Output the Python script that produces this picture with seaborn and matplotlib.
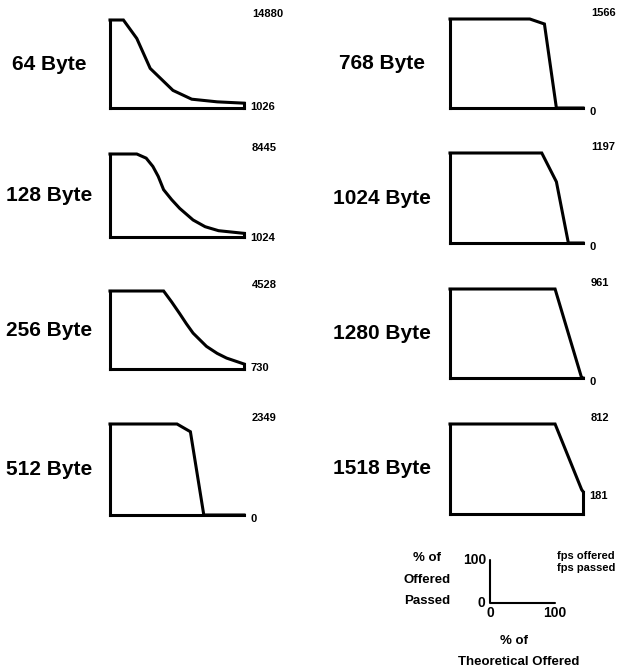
import matplotlib
matplotlib.use("Agg")
import matplotlib.pyplot as plt
import pandas as pd
import seaborn as sns

sns.set_style("white")
plt.rcParams["font.family"] = ["Liberation Sans", "DejaVu Sans"]
plt.rcParams["font.weight"] = "bold"
plt.rcParams["text.color"] = "black"

# Frame sizes tested and the frame rates reported at the right of each panel
frame_sizes = [64, 128, 256, 512, 768, 1024, 1280, 1518]
fps_offered = [14880, 8445, 4528, 2349, 1566, 1197, 961, 812]
fps_passed = [1026, 1024, 730, 0, 0, 0, 0, 181]

# % of theoretical offered load (x) vs % of offered frames passed (y)
load_64 = [0, 10, 20, 30, 47, 61, 80, 100]
pass_64 = [100, 100, 79, 45, 20, 10, 7, 5.5]
load_128 = [0, 20, 27, 32, 36, 40, 46, 52, 62, 71, 81, 100]
pass_128 = [100, 100, 95, 85, 73, 57, 45, 34.5, 20.5, 12.4, 7.6, 4.4]
load_256 = [0, 40, 46, 52, 57, 62, 72, 80, 87, 100]
pass_256 = [100, 100, 86, 71, 58, 46, 29, 20, 14, 6.4]
load_512 = [0, 50, 60, 70, 100]
pass_512 = [100, 100, 91.5, 0, 0]
load_768 = [0, 60, 71, 80, 100]
pass_768 = [100, 100, 94.4, 0, 0]
load_1024 = [0, 69, 80, 89, 100]
pass_1024 = [100, 100, 68, 0, 0]
load_1280 = [0, 79, 99, 100]
pass_1280 = [100, 100, 0, 0]
load_1518 = [0, 79, 99, 100]
pass_1518 = [100, 100, 27, 25]

curves = [
    (load_64, pass_64), (load_128, pass_128), (load_256, pass_256),
    (load_512, pass_512), (load_768, pass_768), (load_1024, pass_1024),
    (load_1280, pass_1280), (load_1518, pass_1518),
]

W, H = 626, 669
fig = plt.figure(figsize=(W / 100, H / 100), dpi=100)

# panel boxes in pixels: left, right, top, bottom
boxes = [
    (110, 244, 20, 108), (110, 244, 154, 237), (110, 244, 291, 369), (110, 244, 424, 515),
    (450, 583, 19, 108), (450, 583, 153, 243), (450, 583, 289, 378), (450, 583, 424, 514),
]
label_cx = [49, 49, 49, 49, 382, 382, 382, 382]

LW = 2.2
for i, (size, (xs, ys)) in enumerate(zip(frame_sizes, curves)):
    x0, x1, top, bot = boxes[i]
    ax = fig.add_axes([x0 / W, 1 - bot / H, (x1 - x0) / W, (bot - top) / H])
    ax.set_xlim(0, 100)
    ax.set_ylim(0, 100)
    ax.axis("off")
    df = pd.DataFrame({"load": xs, "passed": ys})
    sns.lineplot(data=df, x="load", y="passed", sort=False, color="black",
                 linewidth=LW, ax=ax, clip_on=False, solid_joinstyle="miter",
                 solid_capstyle="projecting")
    end = ys[-1]
    ax.plot([0, 0], [100, 0], color="black", lw=LW, clip_on=False,
            solid_capstyle="projecting")
    ax.plot([0, 100], [0, 0], color="black", lw=LW, clip_on=False,
            solid_capstyle="projecting")
    if end > 0:
        ax.plot([100, 100], [0, end], color="black", lw=LW, clip_on=False,
                solid_capstyle="projecting")
    ax.annotate(f"{fps_offered[i]}", xy=(100, 100), xytext=(5.8, 4.0),
                textcoords="offset points", ha="left", va="center",
                fontsize=8, fontweight="bold")
    ax.annotate(f"{fps_passed[i]}", xy=(100, end), xytext=(4.5, -3),
                textcoords="offset points", ha="left", va="center",
                fontsize=8, fontweight="bold")
    fig.text(label_cx[i] / W, 1 - (top + bot) / 2 / H, f"{size} Byte",
             ha="center", va="center", fontsize=15, fontweight="bold")

# key panel explaining the axes
kx0, kx1, ktop, kbot = 490, 555, 560, 603
kax = fig.add_axes([kx0 / W, 1 - kbot / H, (kx1 - kx0) / W, (kbot - ktop) / H])
kax.set_xlim(0, 100)
kax.set_ylim(0, 100)
kax.axis("off")
kax.plot([0, 0, 100], [100, 0, 0], color="black", lw=1.5, clip_on=False)
kax.text(-5, 100, "100", ha="right", va="center", fontsize=10, fontweight="bold")
kax.text(-8, 0, "0", ha="right", va="center", fontsize=10, fontweight="bold")
kax.text(0, -24, "0", ha="center", va="center", fontsize=10, fontweight="bold")
kax.text(100, -24, "100", ha="center", va="center", fontsize=10, fontweight="bold")

fig.text(427 / W, 1 - 558 / H, "% of", ha="center", va="center", fontsize=9.5, fontweight="bold")
fig.text(427 / W, 1 - 580 / H, "Offered", ha="center", va="center", fontsize=9.5, fontweight="bold")
fig.text(427 / W, 1 - 601 / H, "Passed", ha="center", va="center", fontsize=9.5, fontweight="bold")
fig.text(514 / W, 1 - 641 / H, "% of", ha="center", va="center", fontsize=9.5, fontweight="bold")
fig.text(519 / W, 1 - 662 / H, "Theoretical Offered", ha="center", va="center",
         fontsize=9.5, fontweight="bold")
fig.text(557 / W, 1 - 556 / H, "fps offered", ha="left", va="center", fontsize=8, fontweight="bold")
fig.text(557 / W, 1 - 568 / H, "fps passed", ha="left", va="center", fontsize=8, fontweight="bold")

fig.savefig("out.png", dpi=100, facecolor="white")
